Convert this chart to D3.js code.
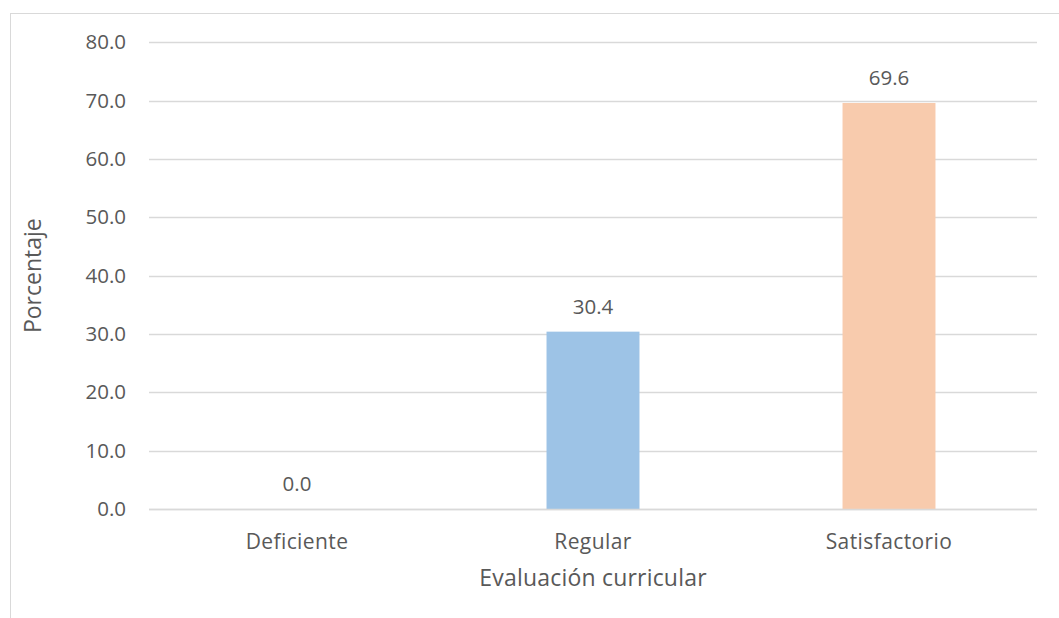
<!DOCTYPE html>
<html>
<head>
<meta charset="utf-8">
<script src="https://cdn.jsdelivr.net/npm/d3@7"></script>
<style>
  html, body { margin: 0; padding: 0; background: #fff; }
  svg { display: block; }
  text { font-family: "Open Sans", sans-serif; fill: #595959; }
</style>
</head>
<body>
<svg id="chart" width="1059" height="618"></svg>
<script>
// Evaluación curricular: porcentaje por nivel
const categories = ["Deficiente", "Regular", "Satisfactorio"];
const values = [0.0, 30.4, 69.6];
const barColors = ["#9DC3E6", "#9DC3E6", "#F8CBAD"];
const yTicks = [0, 10, 20, 30, 40, 50, 60, 70, 80];

const svg = d3.select("#chart");
const plot = { left: 149, right: 1037, top: 42.3, bottom: 509 };

// outer chart frame (runs past the right and bottom edges)
svg.append("rect")
  .attr("x", 10.5).attr("y", 13.5)
  .attr("width", 1060).attr("height", 620)
  .attr("fill", "none").attr("stroke", "#d9d9d9").attr("stroke-width", 1);

const x = d3.scaleBand().domain(categories).range([plot.left, plot.right]).padding(0);
const y = d3.scaleLinear().domain([0, 80]).range([plot.bottom, plot.top]);

// horizontal gridlines
svg.append("g")
  .selectAll("line").data(yTicks).join("line")
  .attr("x1", plot.left).attr("x2", plot.right)
  .attr("y1", d => Math.round(y(d)) + 0.5).attr("y2", d => Math.round(y(d)) + 0.5)
  .attr("stroke", "#d9d9d9").attr("stroke-width", 1.3);

// y axis tick labels
const yAxis = d3.axisLeft(y).tickValues(yTicks).tickFormat(d3.format(".1f")).tickSize(0).tickPadding(23);
const gy = svg.append("g").attr("transform", `translate(${plot.left},0)`).call(yAxis);
gy.select(".domain").remove();
gy.selectAll("text").style("font-size", "20.5px").attr("fill", "#595959")
  .style("font-family", "'Open Sans', sans-serif");

// bars
const barW = x.bandwidth() * 0.314;
svg.append("g")
  .selectAll("rect").data(values).join("rect")
  .attr("x", (d, i) => x(categories[i]) + x.bandwidth() / 2 - barW / 2)
  .attr("y", d => y(d))
  .attr("width", barW)
  .attr("height", d => y(0) - y(d))
  .attr("fill", (d, i) => barColors[i]);

// baseline
svg.append("line")
  .attr("x1", plot.left).attr("x2", plot.right)
  .attr("y1", Math.round(y(0)) + 0.5).attr("y2", Math.round(y(0)) + 0.5)
  .attr("stroke", "#d9d9d9").attr("stroke-width", 1.3);

// value labels
svg.append("g")
  .selectAll("text").data(values).join("text")
  .attr("x", (d, i) => x(categories[i]) + x.bandwidth() / 2)
  .attr("y", d => y(d) - 18)
  .attr("text-anchor", "middle")
  .style("font-size", "20.5px")
  .attr("fill", "#404040")
  .text(d => d3.format(".1f")(d));

// x axis category labels
const xAxis = d3.axisBottom(x).tickSize(0).tickPadding(25);
const gx = svg.append("g").attr("transform", `translate(0,${plot.bottom})`).call(xAxis);
gx.select(".domain").remove();
gx.selectAll("text").style("font-size", "21px").style("letter-spacing", "0.4px")
  .attr("fill", "#595959").style("font-family", "'Open Sans', sans-serif");

// axis titles
svg.append("text")
  .attr("x", (plot.left + plot.right) / 2)
  .attr("y", 586)
  .attr("text-anchor", "middle")
  .style("font-size", "23px")
  .style("letter-spacing", "0.2px")
  .text("Evaluación curricular");

svg.append("text")
  .attr("transform", `translate(41,${(plot.top + plot.bottom) / 2}) rotate(-90)`)
  .attr("text-anchor", "middle")
  .style("font-size", "23px")
  .text("Porcentaje");
</script>
</body>
</html>
